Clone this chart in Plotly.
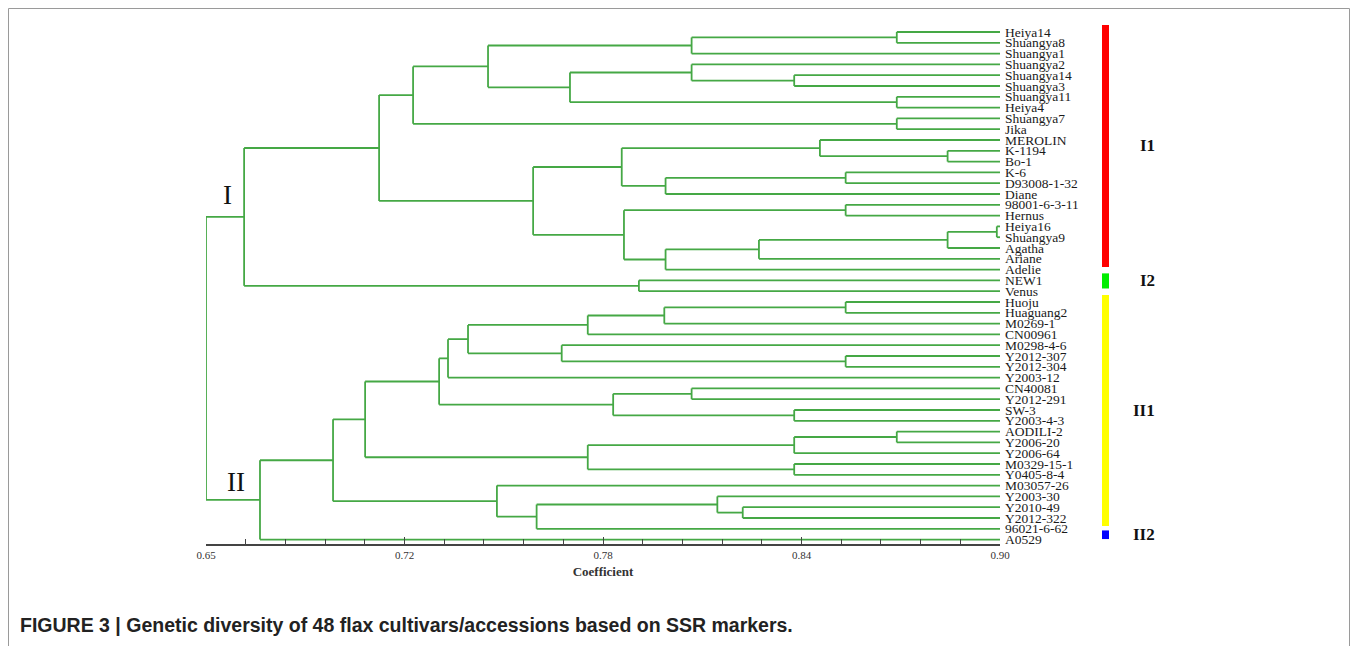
import plotly.graph_objects as go

# ---------------- data ----------------
leaves = [
    "Heiya14", "Shuangya8", "Shuangya1", "Shuangya2", "Shuangya14", "Shuangya3",
    "Shuangya11", "Heiya4", "Shuangya7", "Jika", "MEROLIN", "K-1194", "Bo-1",
    "K-6", "D93008-1-32", "Diane", "98001-6-3-11", "Hernus", "Heiya16",
    "Shuangya9", "Agatha", "Ariane", "Adelie", "NEW1", "Venus", "Huoju",
    "Huaguang2", "M0269-1", "CN00961", "M0298-4-6", "Y2012-307", "Y2012-304",
    "Y2003-12", "CN40081", "Y2012-291", "SW-3", "Y2003-4-3", "AODILI-2",
    "Y2006-20", "Y2006-64", "M0329-15-1", "Y0405-8-4", "M03057-26", "Y2003-30",
    "Y2010-49", "Y2012-322", "96021-6-62", "A0529",
]

# merges: (cluster id, child a, child b, coefficient)
merge_ids = ["c1", "c2", "c3", "c4", "c5", "c6", "c7", "c8", "c9", "c10",
             "c11", "c12", "c13", "c14", "c15", "c16", "c17", "c18", "c19", "c20",
             "c21", "c22", "c23", "c24", "c25", "c26", "c27", "c28", "c29", "c30",
             "c31", "c32", "c33", "c34", "c35", "c36", "c37", "c38", "c39", "c40",
             "c41", "c42", "c43", "c44", "c45", "c46", "c47"]
merge_a = ["Heiya14", "c1", "Shuangya14", "Shuangya2", "Shuangya11", "c4", "c2",
           "Shuangya7", "c7", "K-1194", "MEROLIN", "K-6", "c12", "c11",
           "98001-6-3-11", "Heiya16", "c16", "c17", "c18", "c15", "c14", "c9",
           "NEW1", "c22", "Huoju", "c25", "c26", "Y2012-307", "M0298-4-6", "c27",
           "c30", "CN40081", "SW-3", "c32", "c31", "AODILI-2", "c36",
           "M0329-15-1", "c37", "c35", "Y2010-49", "Y2003-30", "c42",
           "M03057-26", "c40", "c45", "c24"]
merge_b = ["Shuangya8", "Shuangya1", "Shuangya3", "c3", "Heiya4", "c5", "c6",
           "Jika", "c8", "Bo-1", "c10", "D93008-1-32", "Diane", "c13", "Hernus",
           "Shuangya9", "Agatha", "Ariane", "Adelie", "c19", "c20", "c21",
           "Venus", "c23", "Huaguang2", "M0269-1", "CN00961", "Y2012-304", "c28",
           "c29", "Y2003-12", "Y2012-291", "Y2003-4-3", "c33", "c34", "Y2006-20",
           "Y2006-64", "Y0405-8-4", "c38", "c39", "Y2012-322", "c41",
           "96021-6-62", "c43", "c44", "A0529", "c46"]
merge_coef = [0.8675, 0.8029, 0.8352, 0.8029, 0.8675, 0.7646, 0.7388, 0.8675,
              0.7152, 0.8835, 0.8433, 0.8514, 0.7947, 0.7809, 0.8514, 0.8990,
              0.8835, 0.8241, 0.7947, 0.7816, 0.7530, 0.7045, 0.7863, 0.6620,
              0.8514, 0.7943, 0.7702, 0.8514, 0.7620, 0.7325, 0.7262, 0.8029,
              0.8352, 0.7782, 0.7234, 0.8675, 0.8352, 0.8352, 0.7702, 0.7001,
              0.8190, 0.8110, 0.7541, 0.7416, 0.6900, 0.6670, 0.6500]

leaf_coef = 0.90

tick_vals = [0.65, 0.7125, 0.775, 0.8375, 0.90]
tick_text = ["0.65", "0.72", "0.78", "0.84", "0.90"]
minor_step = 0.0125

groups = ["I1", "I2", "II1", "II2"]
group_first = ["Heiya14", "NEW1", "Huoju", "A0529"]
group_last = ["Adelie", "Venus", "96021-6-62", "A0529"]
group_colors = ["#ff0000", "#00ee00", "#ffff00", "#0000ff"]

clade_names = ["I", "II"]
clade_nodes = ["c24", "c46"]

caption = "FIGURE 3 | Genetic diversity of 48 flax cultivars/accessions based on SSR markers."

# ---------------- layout constants (figure pixels) ----------------
W, H = 1350, 638
LINE = "#45a845"
PX_L, PX_R = 198, 992
PX_TOP, PX_AX = 12, 536
LEAF0 = 24
STEP = 10.8

# ---------------- build tree geometry ----------------
pos = {}
for i, n in enumerate(leaves):
    pos[n] = (leaf_coef, i)

xs, ys = [], []
for cid, a, b, h in zip(merge_ids, merge_a, merge_b, merge_coef):
    xa, ya = pos[a]
    xb, yb = pos[b]
    xs += [h, h, None]
    ys += [ya, yb, None]
    xs += [h, xa, None, h, xb, None]
    ys += [ya, ya, None, yb, yb, None]
    pos[cid] = (h, (ya + yb) / 2)

y_min = (PX_TOP - LEAF0) / STEP
y_max = (PX_AX - LEAF0) / STEP

fig = go.Figure()
fig.add_trace(go.Scatter(x=xs, y=ys, mode="lines",
                         line=dict(color=LINE, width=1.8),
                         hoverinfo="skip", showlegend=False))

shapes = []
annotations = []

# leaf names
for i, n in enumerate(leaves):
    annotations.append(dict(xref="x", yref="y", x=leaf_coef, y=i, text=n,
                            xanchor="left", yanchor="middle", xshift=3,
                            showarrow=False,
                            font=dict(family="Liberation Serif", size=13.5,
                                      color="#1a1a1a")))

wpx = PX_R - PX_L
hpx = PX_AX - PX_TOP
for g, f, l, c in zip(groups, group_first, group_last, group_colors):
    i0 = leaves.index(f)
    i1 = leaves.index(l)
    y0 = i0 - 0.5 + 0.3 - 0.45
    y1 = i1 + 0.5 - 0.3 - 0.45
    if y1 - y0 < 0.8:
        y0 = (y0 + y1) / 2 - 0.4
        y1 = y0 + 0.8
    shapes.append(dict(type="rect", xref="paper", yref="y",
                       x0=(1094 - PX_L) / wpx, x1=(1101 - PX_L) / wpx,
                       y0=y0, y1=y1, fillcolor=c, line=dict(width=0),
                       layer="above"))
    annotations.append(dict(xref="paper", yref="y", x=(1149 - PX_L) / wpx,
                            y=(y0 + y1) / 2, text="<b>%s</b>" % g, showarrow=False,
                            font=dict(family="Liberation Serif", size=17, color="#111")))

# clade roman numerals
clade_offsets_x = [0.0067, 0.0095]
clade_offsets_y = [-2.0, -1.7]
for name, node, dx, dy in zip(clade_names, clade_nodes, clade_offsets_x, clade_offsets_y):
    h, yc = pos[node]
    annotations.append(dict(xref="x", yref="y", x=merge_coef[-1] + dx,
                            y=yc + dy, text=name, showarrow=False,
                            font=dict(family="Liberation Serif", size=27, color="#111")))

# frame border
shapes.append(dict(type="rect", xref="paper", yref="paper",
                   x0=(0.5 - PX_L) / wpx, x1=(1341.5 - PX_L) / wpx,
                   y0=(PX_AX - 700) / hpx, y1=(PX_AX - 0.5) / hpx,
                   line=dict(color="#9a9a9a", width=1), fillcolor="rgba(0,0,0,0)",
                   layer="below"))

annotations.append(dict(xref="paper", yref="paper",
                        x=(10 - PX_L) / wpx, y=(PX_AX - 617) / hpx,
                        xanchor="left", yanchor="middle", text="<b>%s</b>" % caption,
                        showarrow=False,
                        font=dict(family="Liberation Sans Narrow, Liberation Sans", size=19.5,
                                  color="#222")))

fig.update_layout(
    width=W, height=H,
    margin=dict(l=PX_L, r=W - PX_R, t=PX_TOP, b=H - PX_AX),
    paper_bgcolor="white", plot_bgcolor="white",
    xaxis=dict(range=[0.65, 0.90], showgrid=False, zeroline=False,
               showline=True, linecolor="#444", linewidth=1.5,
               tickmode="array", tickvals=tick_vals, ticktext=tick_text,
               ticks="inside", ticklen=7, tickwidth=1.3, tickcolor="#444",
               minor=dict(tick0=0.65, dtick=minor_step, ticks="inside",
                          ticklen=5, tickwidth=1, tickcolor="#444", showgrid=False),
               tickfont=dict(family="Liberation Serif", size=11, color="#333"),
               title=dict(text="<b>Coefficient</b>", standoff=7,
                          font=dict(family="Liberation Serif", size=13, color="#333"))),
    yaxis=dict(range=[y_max, y_min], visible=False, showgrid=False, zeroline=False),
    shapes=shapes, annotations=annotations,
)

fig.write_html("out.html")
